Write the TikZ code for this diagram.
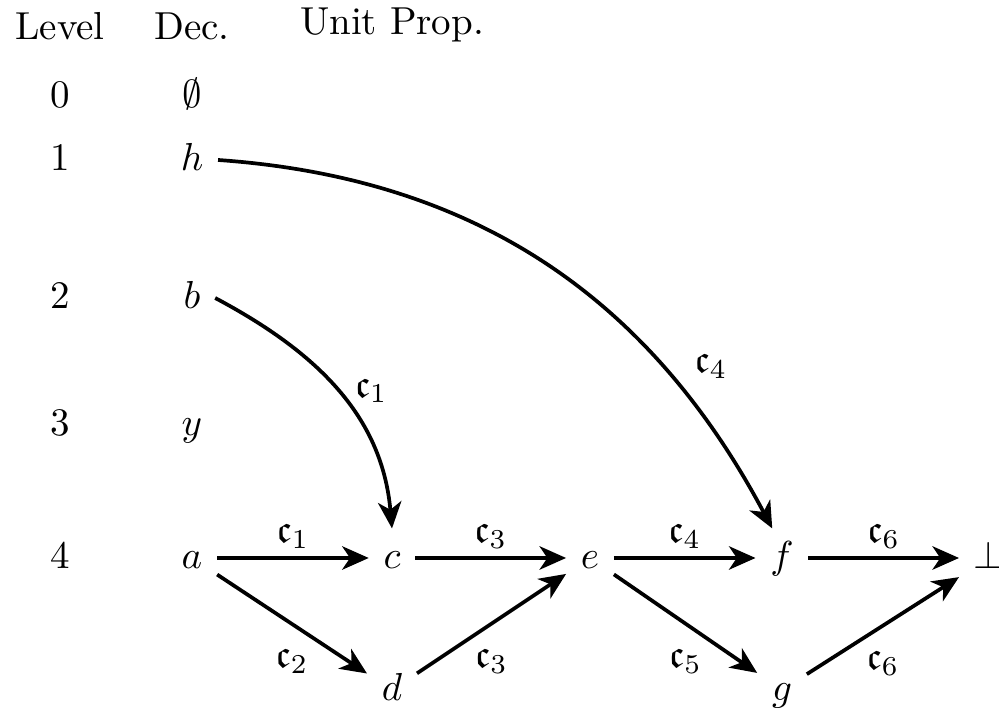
\documentclass[tikz,border=0pt]{standalone}
\usepackage{amssymb}
\usetikzlibrary{arrows.meta}
\begin{document}
\begin{tikzpicture}[x=0.2563pt,y=-0.2563pt,
  v/.style={inner sep=3.6pt,text height=1.5ex,text depth=0.25ex},
  hd/.style={inner sep=0pt},
  arr/.style={-{Stealth[length=6.8pt,width=6pt,inset=2pt]},line width=0.95pt},
  lb/.style={inner sep=2pt}]
\path[use as bounding box] (0,0) rectangle (999,708);
% headers
\node[hd,anchor=base] (hlev) at (60,40) {Level};
\node[hd,anchor=base] (hdec) at (192,40) {Dec.};
\node[hd,anchor=base] (hunit) at (392,35) {Unit Prop.};
% levels
\node[v] (l0) at (60,97) {0};
\node[v] (l1) at (60,160) {1};
\node[v] (l2) at (60,298) {2};
\node[v] (l3) at (60,425) {3};
\node[v] (l4) at (60,558) {4};
% decisions
\node[v] (empty) at (192,97) {$\emptyset$};
\node[v] (h) at (192,160) {$h$};
\node[v] (b) at (192,298) {$b$};
\node[v] (y) at (192,425) {$y$};
\node[v] (a) at (192,558) {$a$};
% propagation
\node[v] (c) at (392,558) {$c$};
\node[v] (e) at (590,558) {$e$};
\node[v] (f) at (782,558) {$f$};
\node[v] (bot) at (989,558) {$\bot$};
\node[v] (d) at (392,690) {$d$};
\node[v] (g) at (782,690) {$g$};
% edges
\draw[arr] (a) -- node[lb,above] {$\mathfrak{c}_1$} (c);
\draw[arr] (c) -- node[lb,above] {$\mathfrak{c}_3$} (e);
\draw[arr] (e) -- node[lb,above] {$\mathfrak{c}_4$} (f);
\draw[arr] (f) -- node[lb,above] {$\mathfrak{c}_6$} (bot);
\draw[arr] (a) -- node[lb,below,yshift=-4pt] {$\mathfrak{c}_2$} (d);
\draw[arr] (d) -- node[lb,below,yshift=-4pt] {$\mathfrak{c}_3$} (e);
\draw[arr] (e) -- node[lb,below,yshift=-4pt] {$\mathfrak{c}_5$} (g);
\draw[arr] (g) -- node[lb,below,yshift=-4pt] {$\mathfrak{c}_6$} (bot);
\draw[arr] (b.east) to[out=-28,in=95] node[lb,pos=0.5,right,xshift=2pt] {$\mathfrak{c}_1$} (c.north);
\draw[arr] (h.east) to[out=-4,in=118] node[lb,pos=0.73,right,xshift=6pt] {$\mathfrak{c}_4$} ([xshift=-2.5pt]f.north);
\end{tikzpicture}
\end{document}
